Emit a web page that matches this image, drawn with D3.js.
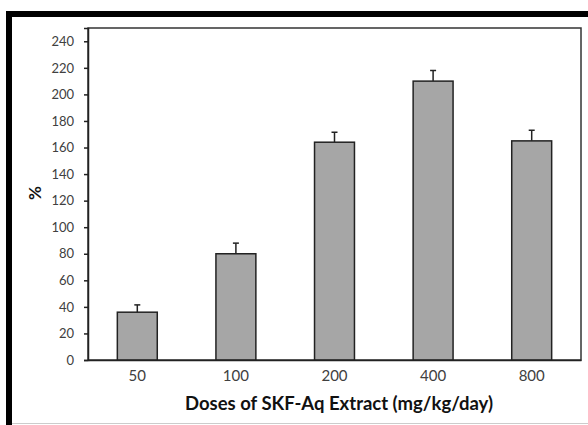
<!DOCTYPE html>
<meta charset="utf-8">
<title>Doses of SKF-Aq Extract</title>
<style>
body { margin: 0; background: #fff; }
.tick text { font-family: Lato, "Open Sans", sans-serif; font-size: 13px; fill: #404040; }
</style>
<svg width="588" height="425"></svg>
<script src="https://d3js.org/d3.v7.min.js"></script>
<script>

// values
var doses = ["50", "100", "200", "400", "800"];
var means = [36, 80, 164, 210, 165];
var errors = [5.5, 8, 7.5, 8, 8];
var yTicks = [0, 20, 40, 60, 80, 100, 120, 140, 160, 180, 200, 220, 240];

var svg = d3.select("svg"),
    width = +svg.attr("width"),
    height = +svg.attr("height");

var margin = {top: 28, right: 7, bottom: 65, left: 88};

//frame around the figure
svg.append("rect").attr("x", 6).attr("y", 11).attr("width", width - 6).attr("height", 6).attr("fill", "#000");
svg.append("rect").attr("x", 6).attr("y", 11).attr("width", 6).attr("height", height - 11).attr("fill", "#000");
svg.append("line").attr("x1", 12).attr("x2", width).attr("y1", 423.5).attr("y2", 423.5)
    .attr("stroke", "#ccc");

var x = d3.scaleBand()
    .domain(doses)
    .range([margin.left, width - margin.right])
    .paddingInner(0.595)
    .paddingOuter(0.2975);

var y = d3.scaleLinear()
    .domain([0, 250])
    .range([height - margin.bottom, margin.top]);

//plot area border
svg.append("rect")
    .attr("x", margin.left).attr("y", margin.top)
    .attr("width", width - margin.right - margin.left)
    .attr("height", height - margin.bottom - margin.top)
    .attr("fill", "none").attr("stroke", "#333").attr("stroke-width", 1.5);

//error bars (upper only)
var eb = svg.append("g").attr("stroke", "#222").attr("stroke-width", 1.5);
eb.selectAll("line.v").data(doses).enter().append("line")
    .attr("x1", function(d) { return x(d) + x.bandwidth() / 2; })
    .attr("x2", function(d) { return x(d) + x.bandwidth() / 2; })
    .attr("y1", function(d, i) { return y(means[i]); })
    .attr("y2", function(d, i) { return y(means[i] + errors[i]); });
eb.selectAll("line.c").data(doses).enter().append("line")
    .attr("x1", function(d) { return x(d) + x.bandwidth() / 2 - 3; })
    .attr("x2", function(d) { return x(d) + x.bandwidth() / 2 + 3; })
    .attr("y1", function(d, i) { return y(means[i] + errors[i]); })
    .attr("y2", function(d, i) { return y(means[i] + errors[i]); });

//bars
svg.append("g").selectAll("rect").data(doses).enter().append("rect")
    .attr("x", function(d) { return x(d); })
    .attr("y", function(d, i) { return y(means[i]); })
    .attr("width", x.bandwidth())
    .attr("height", function(d, i) { return y(0) - y(means[i]); })
    .attr("fill", "#a6a6a6")
    .attr("stroke", "#222")
    .attr("stroke-width", 1.5);

//axes
var yAxis = svg.append("g")
    .attr("transform", "translate(" + margin.left + ",0)")
    .call(d3.axisLeft(y).tickValues(yTicks).tickSize(4).tickPadding(10));
yAxis.select(".domain").attr("stroke", "#222").attr("stroke-width", 1.5);
yAxis.selectAll(".tick line").attr("stroke", "#222").attr("stroke-width", 1.5);

var xAxis = svg.append("g")
    .attr("transform", "translate(0," + y(0) + ")")
    .call(d3.axisBottom(x).tickSize(0).tickPadding(10));
xAxis.select(".domain").attr("stroke", "#222").attr("stroke-width", 1.5);
xAxis.selectAll(".tick text").style("font-size", "15px");

//axis titles
svg.append("text")
    .attr("transform", "translate(41,193) rotate(-90)")
    .attr("text-anchor", "middle")
    .attr("font-family", "Lato, sans-serif")
    .attr("font-weight", "bold")
    .attr("font-size", 17)
    .attr("fill", "#111")
    .text("%");

svg.append("text")
    .attr("x", 339).attr("y", 410)
    .attr("text-anchor", "middle")
    .attr("font-family", "Lato, sans-serif")
    .attr("font-weight", "bold")
    .attr("font-size", 18.5)
    .attr("fill", "#111")
    .text("Doses of SKF-Aq Extract (mg/kg/day)");

</script>
